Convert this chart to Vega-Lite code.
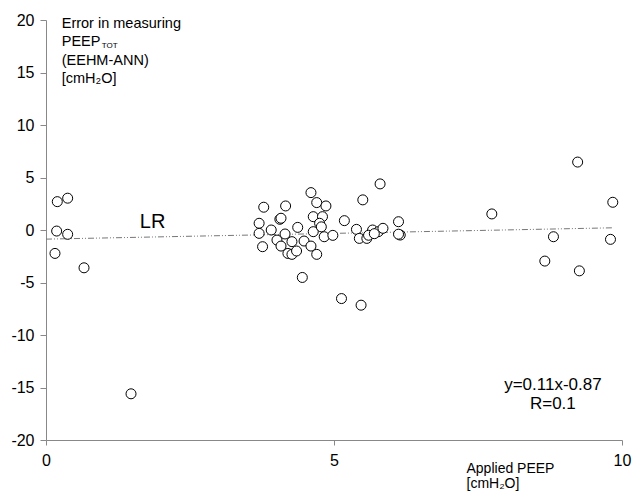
{
  "$schema": "https://vega.github.io/schema/vega-lite/v6.json",
  "width": 576,
  "height": 420,
  "autosize": "none",
  "padding": {"left": 46, "top": 20, "right": 11, "bottom": 55},
  "background": "white",
  "config": {
    "view": {"stroke": null},
    "font": "Liberation Sans",
    "axis": {"grid": false, "domainColor": "#888888", "tickColor": "#888888", "labelColor": "black", "labelFont": "Liberation Sans", "labelFontSize": 16, "titleFont": "Liberation Sans", "titleFontWeight": "normal", "titleColor": "black"}
  },
  "datasets": {
    "points": [
      {"peep": 0.196, "err": 2.70}, {"peep": 0.376, "err": 3.03}, {"peep": 0.185, "err": -0.10}, {"peep": 0.376, "err": -0.41},
      {"peep": 0.156, "err": -2.23}, {"peep": 0.66, "err": -3.6}, {"peep": 1.476, "err": -15.6},
      {"peep": 5.80, "err": 4.39}, {"peep": 5.50, "err": 2.87}, {"peep": 4.60, "err": 3.56}, {"peep": 4.70, "err": 2.61},
      {"peep": 4.86, "err": 2.29}, {"peep": 3.78, "err": 2.17}, {"peep": 4.16, "err": 2.29}, {"peep": 4.06, "err": 1.02},
      {"peep": 4.08, "err": 1.12}, {"peep": 4.64, "err": 1.27}, {"peep": 4.80, "err": 1.27}, {"peep": 5.18, "err": 0.89},
      {"peep": 6.12, "err": 0.79}, {"peep": 3.70, "err": 0.64}, {"peep": 3.91, "err": 0.0}, {"peep": 3.70, "err": -0.32},
      {"peep": 4.37, "err": 0.25}, {"peep": 4.15, "err": -0.38}, {"peep": 4.64, "err": -0.16}, {"peep": 4.75, "err": 0.64},
      {"peep": 4.83, "err": -0.64}, {"peep": 4.98, "err": -0.51}, {"peep": 5.39, "err": 0.06}, {"peep": 5.44, "err": -0.80},
      {"peep": 5.57, "err": -0.80}, {"peep": 5.67, "err": 0.0}, {"peep": 5.77, "err": -0.16}, {"peep": 5.85, "err": 0.16},
      {"peep": 6.15, "err": -0.48}, {"peep": 3.76, "err": -1.59}, {"peep": 4.01, "err": -0.96}, {"peep": 4.08, "err": -1.53},
      {"peep": 4.27, "err": -1.11}, {"peep": 4.20, "err": -2.23}, {"peep": 4.27, "err": -2.32}, {"peep": 4.35, "err": -2.0},
      {"peep": 4.48, "err": -1.05}, {"peep": 4.60, "err": -1.53}, {"peep": 4.70, "err": -2.32}, {"peep": 4.45, "err": -4.52},
      {"peep": 5.13, "err": -6.53}, {"peep": 5.47, "err": -7.16}, {"peep": 4.78, "err": 0.30}, {"peep": 5.60, "err": -0.50},
      {"peep": 6.12, "err": -0.40}, {"peep": 5.70, "err": -0.35},
      {"peep": 9.23, "err": 6.47}, {"peep": 9.84, "err": 2.64}, {"peep": 7.74, "err": 1.53}, {"peep": 8.81, "err": -0.64},
      {"peep": 9.80, "err": -0.89}, {"peep": 8.66, "err": -2.96}, {"peep": 9.26, "err": -3.89}
    ],
    "fit": [{"peep": 0, "err": -0.87}, {"peep": 9.85, "err": 0.21}],
    "labels": [
      {"peep": 0.273, "err": 19.58, "text": "Error in measuring"},
      {"peep": 0.273, "err": 17.86, "text": "PEEP"},
      {"peep": 0.273, "err": 16.14, "text": "(EEHM-ANN)"},
      {"peep": 0.273, "err": 14.42, "text": "[cmH₂O]"}
    ],
    "subs": [
      {"peep": 0.97, "err": 17.5, "text": "TOT"}
    ],
    "notes": [
      {"peep": 1.85, "err": 0.8, "text": "LR", "size": 20},
      {"peep": 8.8, "err": -14.75, "text": "y=0.11x-0.87", "size": 17},
      {"peep": 8.8, "err": -16.6, "text": "R=0.1", "size": 17}
    ]
  },
  "layer": [
    {
      "data": {"name": "fit"},
      "mark": {"type": "line", "color": "#777777", "strokeWidth": 1, "strokeDash": [6, 2, 1, 2, 1, 2]},
      "encoding": {
        "x": {"field": "peep", "type": "quantitative", "scale": {"domain": [0, 10], "nice": false},
          "axis": {"values": [0, 5, 10], "format": "d", "tickSize": 5, "labelPadding": 7, "labelFlush": false,
            "title": ["Applied PEEP", "[cmH₂O]"], "titleFontSize": 14, "titleAnchor": "start", "titleAlign": "left", "titleBaseline": "top", "titleX": 420, "titleY": 21, "titleLineHeight": 15}},
        "y": {"field": "err", "type": "quantitative", "scale": {"domain": [-20, 20], "nice": false},
          "axis": {"values": [-20, -15, -10, -5, 0, 5, 10, 15, 20], "labelExpr": "'' + datum.value", "tickSize": 6, "labelPadding": 6, "title": null}}
      }
    },
    {
      "data": {"name": "points"},
      "mark": {"type": "point", "shape": "circle", "filled": false, "fill": "white", "fillOpacity": 1, "stroke": "black", "strokeWidth": 1, "size": 100, "opacity": 1},
      "encoding": {
        "x": {"field": "peep", "type": "quantitative"},
        "y": {"field": "err", "type": "quantitative"}
      }
    },
    {
      "data": {"name": "labels"},
      "mark": {"type": "text", "align": "left", "baseline": "middle", "fontSize": 14.5, "color": "black"},
      "encoding": {
        "x": {"field": "peep", "type": "quantitative"},
        "y": {"field": "err", "type": "quantitative"},
        "text": {"field": "text"}
      }
    },
    {
      "data": {"name": "subs"},
      "mark": {"type": "text", "align": "left", "baseline": "middle", "fontSize": 8, "color": "black"},
      "encoding": {
        "x": {"field": "peep", "type": "quantitative"},
        "y": {"field": "err", "type": "quantitative"},
        "text": {"field": "text"}
      }
    },
    {
      "data": {"name": "notes"},
      "mark": {"type": "text", "align": "center", "baseline": "middle", "color": "black"},
      "encoding": {
        "x": {"field": "peep", "type": "quantitative"},
        "y": {"field": "err", "type": "quantitative"},
        "text": {"field": "text"},
        "size": {"field": "size", "type": "quantitative", "scale": null, "legend": null}
      }
    }
  ]
}
